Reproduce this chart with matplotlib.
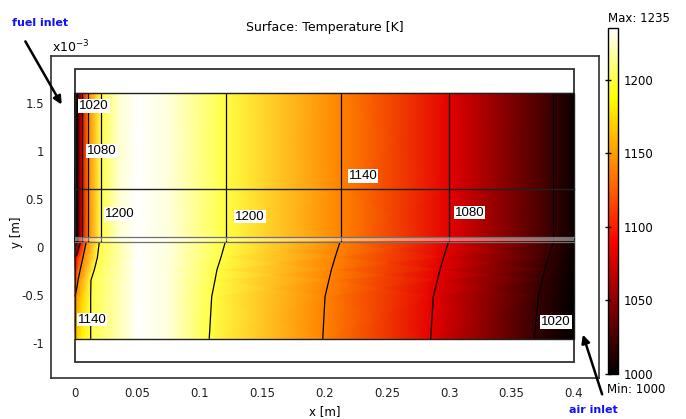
import numpy as np
import matplotlib
matplotlib.use('Agg')
import matplotlib.pyplot as plt
from matplotlib.patches import Rectangle
from matplotlib.colors import LinearSegmentedColormap

# axis ticks (y in units of 1e-3 m)
x_ticks = [0, 0.05, 0.1, 0.15, 0.2, 0.25, 0.3, 0.35, 0.4]
x_ticklabels = ['0', '0.05', '0.1', '0.15', '0.2', '0.25', '0.3', '0.35', '0.4']
y_ticks = [-1, -0.5, 0, 0.5, 1, 1.5]
y_ticklabels = ['-1', '-0.5', '0', '0.5', '1', '1.5']
levels = [1020, 1080, 1140, 1200]
cbar_ticks = [1000, 1050, 1100, 1150, 1200]
t_min, t_max = 1000, 1235

# fuel side (upper part): temperature only changes along x
upper_y = [0.05, 0.6, 1.6]
upper_x = [0, 0.0018, 0.0058, 0.0106, 0.0206, 0.035, 0.05, 0.075, 0.121, 0.213, 0.300, 0.383, 0.4]
upper_T = [1000, 1020, 1080, 1140, 1200, 1225, 1235, 1228, 1200, 1140, 1080, 1020, 1005]

# air channel (lower part): isotherms bend, read row by row
lower_y = [0.05, -0.11, -0.24, -0.35, -0.52, -0.96]
lower_x = [
    [0, 0.0015, 0.0045, 0.0090, 0.0195, 0.05, 0.075, 0.1205, 0.2124, 0.2993, 0.3834, 0.4],
    [0, 0.0015, 0.0035, 0.0064, 0.0180, 0.05, 0.075, 0.1170, 0.2085, 0.2955, 0.3795, 0.4],
    [0, 0.0015, 0.0030, 0.0042, 0.0155, 0.05, 0.075, 0.1138, 0.2055, 0.2925, 0.3765, 0.4],
    [0, 0.0008, 0.0016, 0.0024, 0.0128, 0.05, 0.075, 0.1122, 0.2035, 0.2905, 0.3745, 0.4],
    [0, 0.0020, 0.0040, 0.0060, 0.0126, 0.05, 0.075, 0.1096, 0.2004, 0.2872, 0.3714, 0.4],
    [0, 0.0020, 0.0040, 0.0060, 0.0126, 0.05, 0.075, 0.1076, 0.1986, 0.2851, 0.3682, 0.4],
]
lower_T = [
    [1000, 1020, 1080, 1140, 1200, 1235, 1228, 1200, 1140, 1080, 1020, 1004],
    [1080, 1095, 1115, 1140, 1200, 1235, 1228, 1200, 1140, 1080, 1020, 1003],
    [1110, 1122, 1133, 1140, 1200, 1235, 1228, 1200, 1140, 1080, 1020, 1002],
    [1125, 1130, 1135, 1140, 1200, 1235, 1228, 1200, 1140, 1080, 1020, 1001],
    [1140, 1150, 1160, 1170, 1200, 1235, 1228, 1200, 1140, 1080, 1020, 1000],
    [1165, 1172, 1180, 1186, 1200, 1235, 1228, 1200, 1140, 1080, 1020, 1000],
]

# contour labels as placed in the picture
label_text = ['1020', '1080', '1200', '1140', '1200', '1140', '1080', '1020']
label_x = [0.0152, 0.0216, 0.0361, 0.0136, 0.1403, 0.2309, 0.3162, 0.3856]
label_y = [1.468, 1.0, 0.342, -0.76, 0.314, 0.741, 0.356, -0.787]

# comsol style "hot": black -> red -> yellow -> white
hot = LinearSegmentedColormap.from_list('comsol_hot', [(0, 'black'), (0.38, 'red'), (0.80, 'yellow'), (1, 'white')])

fig = plt.figure(figsize=(6.86, 4.19), dpi=100)
ax = fig.add_axes([51/686, 41.3/419, 548/686, 322/419])

Xu, Yu = np.meshgrid(upper_x, upper_y)
Tu = np.tile(upper_T, (len(upper_y), 1))
Xl = np.array(lower_x)
Yl = np.tile(np.array(lower_y)[:, None], (1, Xl.shape[1]))
Tl = np.array(lower_T, dtype=float)

# white geometry box behind the field
ax.add_patch(Rectangle((0, -1.2), 0.4, 3.05, facecolor='white', edgecolor='#303030', lw=1.3, zorder=1))

mesh = ax.pcolormesh(Xu, Yu, Tu, shading='gouraud', cmap=hot, vmin=t_min, vmax=t_max, zorder=2)
ax.pcolormesh(Xl, Yl, Tl, shading='gouraud', cmap=hot, vmin=t_min, vmax=t_max, zorder=2)
ax.contour(Xu, Yu, Tu, levels=levels, colors='k', linewidths=0.9, zorder=3)
ax.contour(Xl, Yl, Tl, levels=levels, colors='k', linewidths=0.9, zorder=3)

# domain boundaries
ax.add_patch(Rectangle((0, -0.96), 0.4, 2.56, facecolor='none', edgecolor='#202020', lw=1.0, zorder=4))
ax.plot([0, 0.4], [0.6, 0.6], color='#202020', lw=1.0, zorder=4)
ax.fill_between([0, 0.4], 0.06, 0.09, color='white', alpha=0.45, lw=0, zorder=4)
ax.plot([0, 0.4], [0.1, 0.1], color='#707070', lw=0.9, zorder=4)
ax.plot([0, 0.4], [0.05, 0.05], color='#707070', lw=0.9, zorder=4)

for t, lx, ly in zip(label_text, label_x, label_y):
    ax.text(lx, ly, t, fontsize=9.5, family='Liberation Sans', ha='center', va='center', zorder=5,
            bbox=dict(facecolor='white', edgecolor='none', pad=0.6))

ax.set_xlim(-0.0192, 0.42)
ax.set_ylim(-1.365, 1.993)
ax.set_xticks(x_ticks)
ax.set_xticklabels(x_ticklabels)
ax.set_yticks(y_ticks)
ax.set_yticklabels(y_ticklabels)
ax.tick_params(length=0, labelsize=8.5, colors='#202020')
ax.tick_params(axis='x', pad=7)
ax.tick_params(axis='y', pad=5)
for s in ax.spines.values():
    s.set_color('#303030')
    s.set_linewidth(1.2)

ax.set_title('Surface: Temperature [K]', fontsize=9, pad=18)
ax.set_xlabel('x [m]', fontsize=8.5, labelpad=3)
ax.set_ylabel('y [m]', fontsize=8.5)
ax.yaxis.set_label_coords(-0.051, 0.452)
fig.text(52/686, 1 - 52/419, 'x10$^{-3}$', fontsize=9, ha='left', va='baseline')

# colorbar
cax = fig.add_axes([608.3/686, 45/419, 9.4/686, 345.7/419])
cb = fig.colorbar(mesh, cax=cax, ticks=cbar_ticks)
cb.outline.set_linewidth(1.0)
cax.minorticks_off()
cax.tick_params(axis='y', left=True, right=False, labelleft=False, labelright=True,
                direction='inout', length=4, width=1, pad=2, labelsize=8.5)
fig.text(608/686, 1 - 19/419, 'Max: 1235', fontsize=8.5, ha='left', va='center')
fig.text(607/686, 1 - 389/419, 'Min: 1000', fontsize=8.5, ha='left', va='center')

# inlet markers
fig.text(40/686, 1 - 23/419, 'fuel inlet', fontsize=8, color='#1010ff', weight='bold', ha='center', va='center')
ax.annotate('', xy=(63, 419 - 107), xytext=(24, 419 - 39), xycoords='figure pixels', textcoords='figure pixels',
            arrowprops=dict(arrowstyle='-|>', color='black', lw=1.8, mutation_scale=12))
fig.text(593/686, 1 - 410/419, 'air inlet', fontsize=8, color='#1010ff', weight='bold', ha='center', va='center')
ax.annotate('', xy=(582, 419 - 332), xytext=(603, 419 - 397), xycoords='figure pixels', textcoords='figure pixels',
            arrowprops=dict(arrowstyle='-|>', color='black', lw=1.8, mutation_scale=12))

fig.savefig('out.png', dpi=100)
